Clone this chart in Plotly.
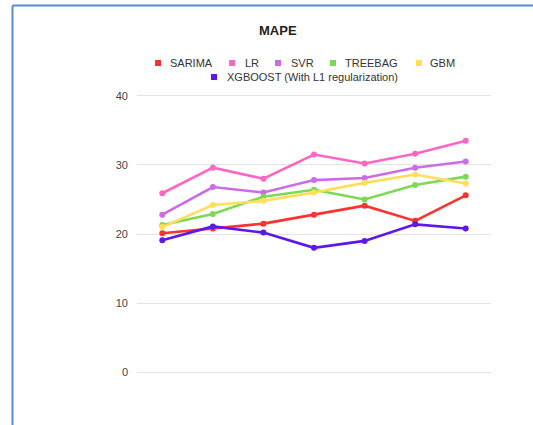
import plotly.graph_objects as go

# Model error (MAPE) over seven evaluation periods
periods = ["1", "2", "3", "4", "5", "6", "7"]
series_names = ["SARIMA", "LR", "SVR", "TREEBAG", "GBM", "XGBOOST (With L1 regularization)"]
sarima = [20.1, 20.8, 21.5, 22.8, 24.1, 21.9, 25.6]
lr = [25.9, 29.6, 28.0, 31.5, 30.2, 31.6, 33.5]
svr = [22.8, 26.8, 26.0, 27.8, 28.1, 29.6, 30.5]
treebag = [21.3, 22.9, 25.4, 26.4, 25.0, 27.1, 28.3]
gbm = [21.0, 24.2, 24.8, 26.0, 27.4, 28.6, 27.3]
xgboost = [19.1, 21.1, 20.2, 18.0, 19.0, 21.4, 20.8]
y_ticks = [0, 10, 20, 30, 40]

series_values = [sarima, lr, svr, treebag, gbm, xgboost]
colors = ["#ff3131", "#ff66c4", "#cb6ce6", "#7ed957", "#ffde59", "#5e17eb"]

# Page geometry (pixels)
WIDTH, HEIGHT = 533, 425
L, R, T, B = 137, 491, 82, 386
PW, PH = R - L, B - T


def px_x(px):
    return (px - L) / PW


def px_y(py):
    return (B - py) / PH


FONT = "Liberation Sans, Arial, sans-serif"

fig = go.Figure()
for name, vals, col in zip(series_names, series_values, colors):
    fig.add_trace(go.Scatter(
        x=periods, y=vals, name=name, mode="lines+markers",
        line=dict(color=col, width=2.6),
        marker=dict(color=col, size=6),
        showlegend=False,
    ))

# Custom legend: square swatch + label, two centred rows
legend_rows = [
    [(158, 168, 0), (232, 243, 1), (278, 289, 2), (333, 343, 3), (419, 428, 4)],
    [(214, 225, 5)],
]
row_y = [63, 77]
shapes = []
annotations = []
for row, ry in zip(legend_rows, row_y):
    for sq_x, txt_x, idx in row:
        shapes.append(dict(
            type="rect", xref="paper", yref="paper",
            x0=px_x(sq_x - 3), x1=px_x(sq_x + 3),
            y0=px_y(ry + 3), y1=px_y(ry - 3),
            fillcolor=colors[idx], line=dict(width=0),
        ))
        annotations.append(dict(
            text=series_names[idx], xref="paper", yref="paper",
            x=px_x(txt_x), y=px_y(ry), xanchor="left", yanchor="middle",
            showarrow=False, font=dict(family=FONT, size=11, color="#333333"),
        ))

# Title
annotations.append(dict(
    text="<b>MAPE</b>", xref="paper", yref="paper",
    x=px_x(278), y=px_y(31), xanchor="center", yanchor="middle",
    showarrow=False, font=dict(family=FONT, size=13, color="#222222"),
))

# Blue frame around the chart (open to the right and bottom)
frame_color = "#5b8bd0"
shapes.append(dict(type="line", xref="paper", yref="paper",
                   x0=px_x(12.5), x1=px_x(540), y0=px_y(5.5), y1=px_y(5.5),
                   line=dict(color=frame_color, width=2)))
shapes.append(dict(type="line", xref="paper", yref="paper",
                   x0=px_x(12.5), x1=px_x(12.5), y0=px_y(5.5), y1=px_y(430),
                   line=dict(color=frame_color, width=2)))

fig.update_layout(
    width=WIDTH, height=HEIGHT,
    margin=dict(l=L, r=WIDTH - R, t=T, b=HEIGHT - B, autoexpand=False),
    paper_bgcolor="white", plot_bgcolor="white",
    shapes=shapes, annotations=annotations,
    showlegend=False,
    font=dict(family=FONT, size=11, color="#444444"),
)
fig.update_xaxes(
    type="category", range=[-0.5, 6.5],
    showgrid=False, showticklabels=False, zeroline=False, showline=False,
)
fig.update_yaxes(
    range=[-2, 42], tickvals=y_ticks,
    showgrid=True, gridcolor="#e3e3e3", gridwidth=1,
    zeroline=False, showline=False,
    ticks="", ticklabelstandoff=8,
    tickfont=dict(family=FONT, size=11, color="#444444"),
)

fig.write_html("out.html")
